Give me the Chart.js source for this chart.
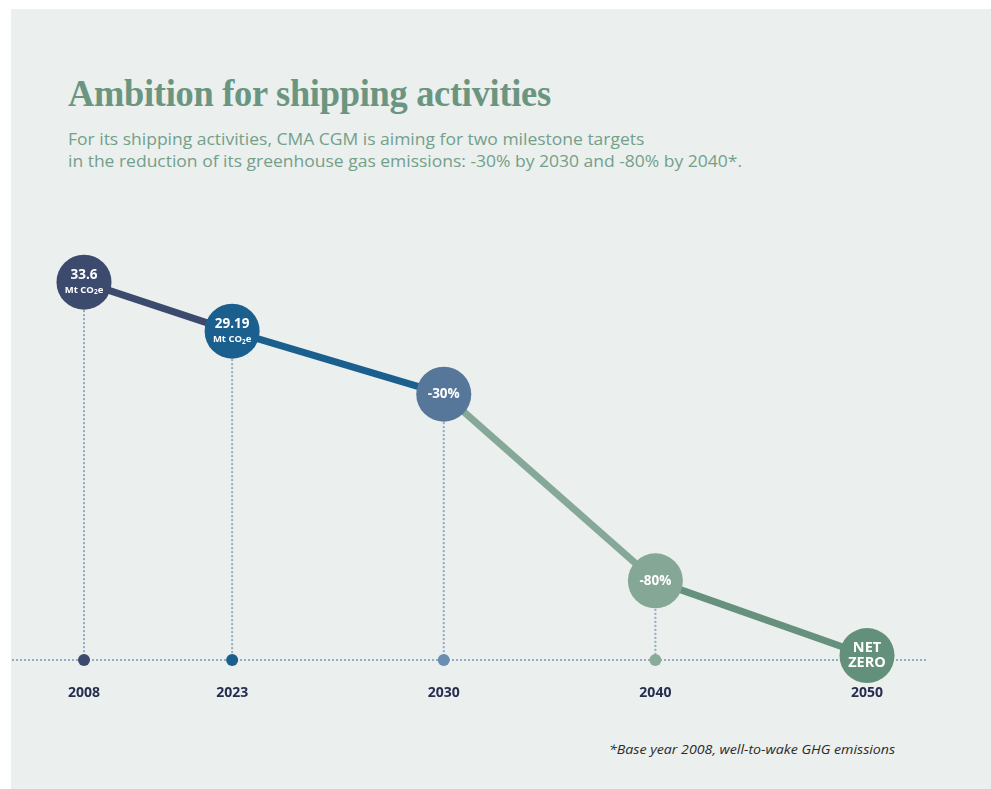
<!DOCTYPE html>
<html>
<head>
<meta charset="utf-8">
<title>Ambition for shipping activities</title>
<script src="https://cdn.jsdelivr.net/npm/chart.js@4.4.1/dist/chart.umd.min.js"></script>
<style>
  body { margin: 0; background: #fff; width: 991px; height: 789px; overflow: hidden; position: relative; }
  #panel { position: absolute; left: 11px; top: 9px; width: 980px; height: 780px; background: #ebefee; }
  #chart { position: absolute; left: 0; top: 0; }
  h1 {
    position: absolute; left: 68px; top: 71px; margin: 0;
    font-family: 'Liberation Serif', serif; font-weight: bold; font-size: 38px;
    color: #6a9580; white-space: nowrap; transform-origin: left top; letter-spacing: -0.3px;
  }
  #intro {
    position: absolute; left: 68px; top: 128px; margin: 0;
    font-family: 'Open Sans', sans-serif; font-size: 16px; line-height: 22px;
    color: #72a08a; white-space: nowrap; transform-origin: left top;
  }
  #note {
    position: absolute; left: 609px; top: 740px; margin: 0;
    font-family: 'Open Sans', sans-serif; font-style: italic; font-size: 13px;
    color: #2b2b2b; white-space: nowrap; transform-origin: left top;
  }
</style>
</head>
<body>
<div id="panel"></div>
<h1 id="title">Ambition for shipping activities</h1>
<p id="intro">For its shipping activities, CMA CGM is aiming for two milestone targets<br>in the reduction of its greenhouse gas emissions: -30% by 2030 and -80% by 2040*.</p>
<p id="note">*Base year 2008, well-to-wake GHG emissions</p>
<canvas id="chart" width="991" height="789"></canvas>
<script>
// milestones along the timeline
const years = ['2008', '2023', '2030', '2040', '2050'];
// position of each milestone on the (non-linear) timeline
const timelineStep = [0, 0.7, 1.7, 2.7, 3.7];
// emissions in Mt CO2e: 33.6 base, 29.19 actual, then -30%, -80%, net zero
const emissions = [33.6, 29.19, 23.52, 6.72, 0];
const baseYearValue = emissions[0];

const bubbleColors = ['#3b4a6d', '#1a5f8e', '#56769a', '#84a796', '#63907a'];
const segmentColors = ['#3b4a6d', '#1a5f8e', '#86a898', '#66917d'];
const tickDotColors = ['#3b4a6d', '#1a5f8e', '#6a8db0', '#8aaa9a'];

// fit a text block to a given width
function fitWidth(id, width) {
    const el = document.getElementById(id);
    el.style.transform = 'scaleX(' + (width / el.offsetWidth) + ')';
}
fitWidth('title', 483);
fitWidth('intro', 674);
fitWidth('note', 286);

function bubbleText(i) {
    const v = emissions[i];
    if (i < 2) return { main: String(v), unit: true };
    const pct = Math.round((v / baseYearValue - 1) * 100);
    if (pct <= -100) return { lines: ['NET', 'ZERO'] };
    return { main: pct + '%' };
}

const timelineGuides = {
    id: 'timelineGuides',
    beforeDatasetsDraw(chart) {
        const ctx = chart.ctx;
        const base = chart.chartArea.bottom;
        const points = chart.getDatasetMeta(0).data;

        ctx.save();
        ctx.strokeStyle = '#94abc2';
        ctx.lineWidth = 2;
        ctx.setLineDash([2, 2]);
        ctx.beginPath();
        ctx.moveTo(12, base);
        ctx.lineTo(926, base);
        ctx.stroke();

        points.forEach((pt, i) => {
            if (i === points.length - 1) return;
            ctx.beginPath();
            ctx.moveTo(pt.x, pt.y);
            ctx.lineTo(pt.x, base);
            ctx.stroke();
        });
        ctx.setLineDash([]);

        points.forEach((pt, i) => {
            if (i === points.length - 1) return;
            ctx.fillStyle = tickDotColors[i];
            ctx.beginPath();
            ctx.arc(pt.x, base, 6, 0, Math.PI * 2);
            ctx.fill();
        });
        ctx.restore();
    },
    afterDatasetsDraw(chart) {
        const ctx = chart.ctx;
        const points = chart.getDatasetMeta(0).data;

        ctx.save();
        ctx.fillStyle = '#ffffff';
        ctx.textBaseline = 'middle';
        points.forEach((pt, i) => {
            const t = bubbleText(i);
            if (t.unit) {
                ctx.textAlign = 'center';
                ctx.font = 'bold 13.5px "Open Sans"';
                ctx.fillText(t.main, pt.x, pt.y - 7);

                // "Mt CO2e" with a subscript 2
                ctx.textAlign = 'left';
                const a = 'Mt CO', b = 'e';
                ctx.font = 'bold 9.5px "Open Sans"';
                const wa = ctx.measureText(a).width;
                const wb = ctx.measureText(b).width;
                ctx.font = 'bold 6.5px "Open Sans"';
                const ws = ctx.measureText('2').width;
                const x = pt.x - (wa + ws + wb) / 2;
                ctx.font = 'bold 9.5px "Open Sans"';
                ctx.fillText(a, x, pt.y + 8);
                ctx.font = 'bold 6.5px "Open Sans"';
                ctx.fillText('2', x + wa, pt.y + 10.5);
                ctx.font = 'bold 9.5px "Open Sans"';
                ctx.fillText(b, x + wa + ws, pt.y + 8);
            } else if (t.lines) {
                ctx.textAlign = 'center';
                ctx.font = 'bold 14.5px "Open Sans"';
                ctx.fillText(t.lines[0], pt.x, pt.y - 7.5);
                ctx.fillText(t.lines[1], pt.x, pt.y + 7.5);
            } else {
                ctx.textAlign = 'center';
                ctx.font = 'bold 13.5px "Open Sans"';
                ctx.fillText(t.main, pt.x, pt.y);
            }
        });
        ctx.restore();
    }
};

const ctx = document.getElementById('chart').getContext('2d');
new Chart(ctx, {
    type: 'line',
    data: {
        datasets: [{
            data: emissions.map((v, i) => ({ x: timelineStep[i], y: v })),
            borderWidth: 7,
            borderCapStyle: 'round',
            segment: {
                borderColor: c => segmentColors[c.p0DataIndex]
            },
            pointRadius: 27.5,
            pointHoverRadius: 27.5,
            pointBackgroundColor: bubbleColors,
            pointBorderColor: bubbleColors,
            pointBorderWidth: 0,
            clip: false,
            tension: 0
        }]
    },
    options: {
        responsive: false,
        animation: false,
        events: [],
        layout: {
            padding: { left: 84, right: 124, top: 211, bottom: 89 }
        },
        plugins: {
            legend: { display: false },
            tooltip: { enabled: false }
        },
        scales: {
            x: {
                type: 'linear',
                min: timelineStep[0],
                max: timelineStep[timelineStep.length - 1],
                afterBuildTicks: scale => {
                    scale.ticks = timelineStep.map(v => ({ value: v }));
                },
                afterFit: scale => { scale.height = 40; },
                grid: { display: false },
                border: { display: false },
                ticks: {
                    autoSkip: false,
                    maxRotation: 0,
                    padding: 17,
                    color: '#262e4e',
                    font: { family: 'Open Sans', weight: 'bold', size: 14 },
                    callback: (value, index) => years[index]
                }
            },
            y: {
                display: false,
                min: -0.4,
                max: 40
            }
        }
    },
    plugins: [timelineGuides]
});
</script>
</body>
</html>
